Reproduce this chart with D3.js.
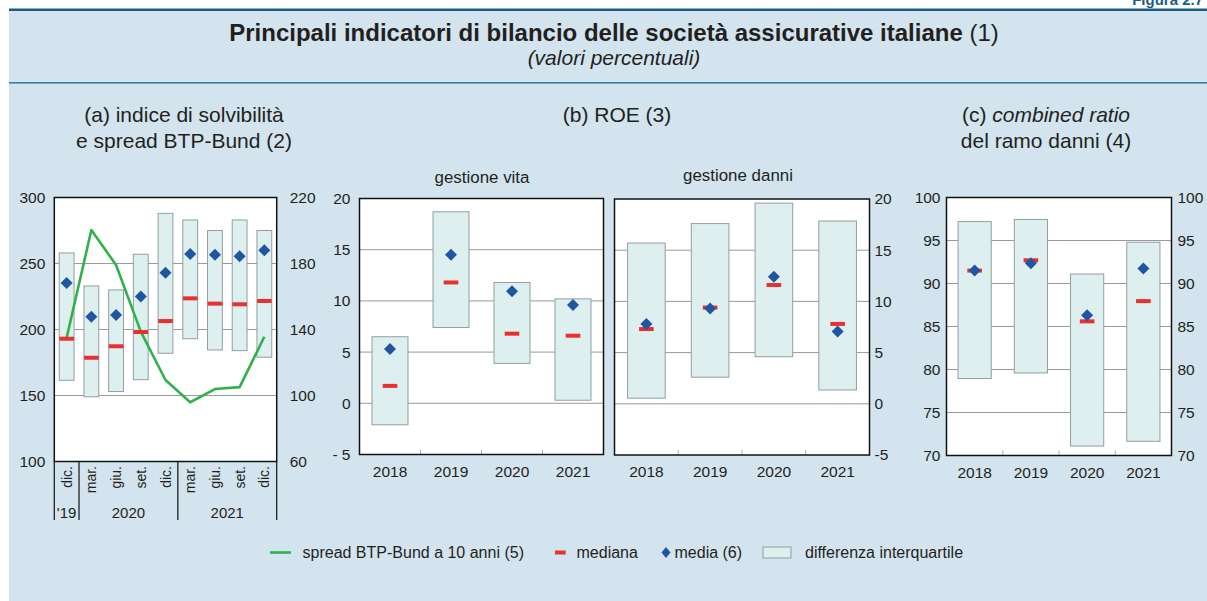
<!DOCTYPE html>
<html>
<head>
<meta charset="utf-8">
<script src="https://cdn.jsdelivr.net/npm/d3@7"></script>
<style>
    body { margin: 0; background: #fff; }
    svg { display: block; font-family: 'Liberation Sans', Arial, sans-serif; }
</style>
</head>
<body>
<svg></svg>
<script>
const width = 1207;
const height = 601;

// (a) solvency index by quarter + BTP-Bund spread
const quarters = ['dic.', 'mar.', 'giu.', 'set.', 'dic.', 'mar.', 'giu.', 'set.', 'dic.'];
const quarterYears = [
    { label: "'19", from: 0, to: 0 },
    { label: '2020', from: 1, to: 4 },
    { label: '2021', from: 5, to: 8 }
];
const solvQ1 = [161.5, 149, 153, 162, 182, 193, 184.5, 184, 179];
const solvQ3 = [258, 233, 230, 257, 288, 283, 275, 283, 275];
const solvMedian = [193, 178.6, 187.3, 198.1, 206.4, 223.6, 219.6, 219.1, 221.6];
const solvMean = [235.2, 209.7, 211, 225, 243, 257.2, 256.7, 255.5, 260];
const spread = [135, 200.3, 179.1, 138.7, 109.4, 95.9, 103.9, 105.1, 135.6];

// (b) ROE and (c) combined ratio, yearly
const years = ['2018', '2019', '2020', '2021'];
const vitaQ1 = [-2.1, 7.4, 3.9, 0.3];
const vitaQ3 = [6.5, 18.7, 11.8, 10.2];
const vitaMedian = [1.7, 11.8, 6.8, 6.6];
const vitaMean = [5.3, 14.5, 10.95, 9.6];
const danniQ1 = [0.55, 2.6, 4.6, 1.35];
const danniQ3 = [15.7, 17.6, 19.6, 17.85];
const danniMedian = [7.3, 9.4, 11.6, 7.8];
const danniMean = [7.8, 9.3, 12.4, 7.05];
const crQ1 = [78.95, 79.6, 71.1, 71.65];
const crQ3 = [97.2, 97.45, 91.1, 94.8];
const crMedian = [91.5, 92.7, 85.6, 87.95];
const crMean = [91.5, 92.35, 86.3, 91.75];

const ink = '#231f20';
const bg = '#d3e4ee';
const boxFill = '#ddefee';
const boxStroke = '#939f9f';
const red = '#e8312f';
const blue = '#1f56a3';
const green = '#2fb24c';
const gridColor = '#9a9a9a';

const svg = d3.select('svg')
    .attr('width', width)
    .attr('height', height);

// frame and header
svg.append('rect')
    .attr('x', 9).attr('y', 9)
    .attr('width', width - 9).attr('height', height - 9)
    .attr('fill', bg);
svg.append('text')
    .attr('x', 1203).attr('y', 5)
    .attr('text-anchor', 'end')
    .style('font-size', '15px').style('font-weight', 'bold')
    .attr('fill', '#1b5e82')
    .text('Figura 2.7');
svg.append('rect')
    .attr('x', 9).attr('y', 8.5).attr('width', width - 9).attr('height', 2.5)
    .attr('fill', '#1b5e82');
svg.append('rect')
    .attr('x', 9).attr('y', 82).attr('width', width - 9).attr('height', 1.6)
    .attr('fill', '#3b7fa6');

const title = svg.append('text')
    .attr('x', 614).attr('y', 41)
    .attr('text-anchor', 'middle')
    .attr('fill', ink)
    .style('font-size', '24px');
title.append('tspan').style('font-weight', 'bold')
    .text('Principali indicatori di bilancio delle società assicurative italiane');
title.append('tspan').text(' (1)');
svg.append('text')
    .attr('x', 614).attr('y', 65)
    .attr('text-anchor', 'middle')
    .attr('fill', ink)
    .style('font-size', '21px').style('font-style', 'italic')
    .text('(valori percentuali)');

function panelTitle(x, y, parts) {
    const t = svg.append('text')
        .attr('x', x).attr('y', y)
        .attr('text-anchor', 'middle')
        .attr('fill', ink)
        .style('font-size', '21px');
    parts.forEach(p => t.append('tspan')
        .style('font-style', p.italic ? 'italic' : 'normal')
        .text(p.text));
}
panelTitle(184, 122, [{ text: '(a) indice di solvibilità' }]);
panelTitle(184, 148, [{ text: 'e spread BTP-Bund (2)' }]);
panelTitle(617, 122, [{ text: '(b) ROE (3)' }]);
panelTitle(1046, 122, [{ text: '(c) ' }, { text: 'combined ratio', italic: true }]);
panelTitle(1046, 148, [{ text: 'del ramo danni (4)' }]);

svg.append('text')
    .attr('x', 482).attr('y', 183)
    .attr('text-anchor', 'middle').attr('fill', ink)
    .style('font-size', '16.9px')
    .text('gestione vita');
svg.append('text')
    .attr('x', 738).attr('y', 181)
    .attr('text-anchor', 'middle').attr('fill', ink)
    .style('font-size', '16.9px')
    .text('gestione danni');

// generic box panel
function boxPanel(o) {
    const x = d3.scaleBand()
        .domain(o.cats.map((_, i) => i))
        .range([o.left, o.right])
        .paddingInner(0).paddingOuter(0);
    const y = d3.scaleLinear()
        .domain(o.domain)
        .range([o.bottom, o.top]);
    const g = svg.append('g');
    g.append('rect')
        .attr('x', o.left).attr('y', o.top)
        .attr('width', o.right - o.left).attr('height', o.bottom - o.top)
        .attr('fill', '#fff');

    const grid = y.ticks(o.tickCount).filter(d => d > o.domain[0] && d < o.domain[1]);
    g.selectAll('.grid')
        .data(grid)
        .enter()
        .append('line')
            .attr('x1', o.left).attr('x2', o.right)
            .attr('y1', d => y(d)).attr('y2', d => y(d))
            .attr('stroke', gridColor).attr('stroke-width', 1);

    const bw = x.bandwidth() * o.boxRatio;
    const rows = o.cats.map((c, i) => ({
        i, q1: o.q1[i], q3: o.q3[i], median: o.median[i], mean: o.mean[i]
    }));
    g.selectAll('.box')
        .data(rows)
        .enter()
        .append('rect')
            .attr('x', d => x(d.i) + (x.bandwidth() - bw) / 2)
            .attr('y', d => y(d.q3))
            .attr('width', bw)
            .attr('height', d => y(d.q1) - y(d.q3))
            .attr('fill', boxFill)
            .attr('stroke', boxStroke).attr('stroke-width', 1);

    if (o.line) {
        const y2 = d3.scaleLinear().domain(o.line.domain).range([o.bottom, o.top]);
        g.append('path')
            .datum(o.line.values)
            .attr('fill', 'none')
            .attr('stroke', green).attr('stroke-width', 2.6)
            .attr('stroke-linejoin', 'round')
            .attr('d', d3.line()
                .x((_, i) => x(i) + x.bandwidth() / 2)
                .y(d => y2(d)));
        const right = d3.axisRight(y2).tickValues(o.line.ticks).tickSize(0).tickPadding(o.rightPad);
        g.append('g')
            .attr('transform', `translate(${o.right},0)`)
            .call(right)
            .call(s => s.select('.domain').remove())
            .call(s => s.selectAll('text').attr('fill', ink).style('font-size', '15.5px').style('font-family', 'inherit'));
    }

    g.selectAll('.median')
        .data(rows)
        .enter()
        .append('rect')
            .attr('x', d => x(d.i) + x.bandwidth() / 2 - 7.3)
            .attr('y', d => y(d.median) - 2)
            .attr('width', 14.6).attr('height', 4)
            .attr('fill', red);

    g.selectAll('.mean')
        .data(rows)
        .enter()
        .append('path')
            .attr('transform', d => `translate(${x(d.i) + x.bandwidth() / 2},${y(d.mean)})`)
            .attr('d', 'M0,-6L6,0L0,6L-6,0Z')
            .attr('fill', blue);

    // in-plot ticks between categories
    if (o.innerTicks) {
        g.selectAll('.itick')
            .data(o.cats.slice(1).map((_, i) => i + 1))
            .enter()
            .append('line')
                .attr('x1', d => x(d)).attr('x2', d => x(d))
                .attr('y1', o.bottom).attr('y2', o.bottom - 5)
                .attr('stroke', '#b0b0b0').attr('stroke-width', 1);
    }

    g.append('rect')
        .attr('x', o.left).attr('y', o.top)
        .attr('width', o.right - o.left).attr('height', o.bottom - o.top)
        .attr('fill', 'none')
        .attr('stroke', '#111').attr('stroke-width', 1.5);

    const fmt = o.format || (d => d);
    if (o.leftAxis) {
        g.append('g')
            .attr('transform', `translate(${o.left},0)`)
            .call(d3.axisLeft(y).ticks(o.tickCount).tickSize(0).tickPadding(o.leftPad).tickFormat(fmt))
            .call(s => s.select('.domain').remove())
            .call(s => s.selectAll('text').attr('fill', ink).style('font-size', '15.5px').style('font-family', 'inherit'));
    }
    if (o.rightAxis) {
        g.append('g')
            .attr('transform', `translate(${o.right},0)`)
            .call(d3.axisRight(y).ticks(o.tickCount).tickSize(0).tickPadding(o.rightPad).tickFormat(o.rightFormat || fmt))
            .call(s => s.select('.domain').remove())
            .call(s => s.selectAll('text').attr('fill', ink).style('font-size', '15.5px').style('font-family', 'inherit'));
    }
    if (o.yearAxis) {
        g.append('g')
            .attr('transform', `translate(0,${o.bottom})`)
            .call(d3.axisBottom(x).tickSize(0).tickPadding(11).tickFormat(i => o.cats[i]))
            .call(s => s.select('.domain').remove())
            .call(s => s.selectAll('text').attr('fill', ink).style('font-size', '15.5px').style('font-family', 'inherit'));
    }
    return { x, y, g };
}

// (a)
const pa = boxPanel({
    left: 54.3, right: 276.7, top: 197.5, bottom: 461.5,
    cats: quarters, domain: [100, 300], tickCount: 4, boxRatio: 0.6,
    q1: solvQ1, q3: solvQ3, median: solvMedian, mean: solvMean,
    leftAxis: true, leftPad: 9,
    line: { values: spread, domain: [60, 220], ticks: d3.range(60, 221, 40) },
    rightPad: 13
});

// quarter / year labels under (a)
const ax = pa.x;
const seps = [0, 1, 5];
pa.g.selectAll('.sep')
    .data(seps)
    .enter()
    .append('line')
        .attr('x1', d => ax(d)).attr('x2', d => ax(d))
        .attr('y1', 461.5).attr('y2', 520)
        .attr('stroke', '#111').attr('stroke-width', 1.2);
pa.g.append('line')
    .attr('x1', 276.7).attr('x2', 276.7)
    .attr('y1', 461.5).attr('y2', 520)
    .attr('stroke', '#111').attr('stroke-width', 1.2);
pa.g.selectAll('.qlab')
    .data(quarters)
    .enter()
    .append('text')
        .attr('transform', (_, i) => `translate(${ax(i) + ax.bandwidth() / 2 + 5},466) rotate(-90)`)
        .attr('text-anchor', 'end')
        .attr('fill', ink)
        .style('font-size', '14px')
        .text(d => d);
pa.g.selectAll('.ylab')
    .data(quarterYears)
    .enter()
    .append('text')
        .attr('x', d => (ax(d.from) + ax(d.to) + ax.bandwidth()) / 2)
        .attr('y', 518)
        .attr('text-anchor', 'middle')
        .attr('fill', ink)
        .style('font-size', '15px')
        .text(d => d.label);

// (b) ROE
boxPanel({
    left: 359.5, right: 603.5, top: 198.5, bottom: 454.5,
    cats: years, domain: [-5, 20], tickCount: 5, boxRatio: 0.59,
    q1: vitaQ1, q3: vitaQ3, median: vitaMedian, mean: vitaMean,
    leftAxis: true, leftPad: 9, innerTicks: true, yearAxis: true,
    format: d => d < 0 ? '- ' + Math.abs(d) : d
});
boxPanel({
    left: 614.5, right: 869.5, top: 199, bottom: 455,
    cats: years, domain: [-5, 20], tickCount: 5, boxRatio: 0.59,
    q1: danniQ1, q3: danniQ3, median: danniMedian, mean: danniMean,
    rightAxis: true, rightPad: 5, innerTicks: true, yearAxis: true,
    format: d => d < 0 ? '-' + Math.abs(d) : d
});

// (c) combined ratio
boxPanel({
    left: 946.5, right: 1171.5, top: 197.5, bottom: 455.5,
    cats: years, domain: [70, 100], tickCount: 6, boxRatio: 0.59,
    q1: crQ1, q3: crQ3, median: crMedian, mean: crMean,
    leftAxis: true, leftPad: 6, rightAxis: true, rightPad: 6,
    innerTicks: true, yearAxis: true
});

// legend
const legend = svg.append('g').style('font-size', '16px').attr('fill', ink);
const ly = 552.5;
legend.append('line')
    .attr('x1', 270).attr('x2', 291).attr('y1', ly).attr('y2', ly)
    .attr('stroke', green).attr('stroke-width', 2.6);
legend.append('text').attr('x', 302.5).attr('y', ly).attr('dy', '0.35em')
    .text('spread BTP-Bund a 10 anni (5)');
legend.append('rect')
    .attr('x', 555).attr('y', ly - 2).attr('width', 10.7).attr('height', 4)
    .attr('fill', red);
legend.append('text').attr('x', 576.5).attr('y', ly).attr('dy', '0.35em')
    .text('mediana');
legend.append('path')
    .attr('transform', `translate(666,${ly})`)
    .attr('d', 'M0,-5.5L4.5,0L0,5.5L-4.5,0Z')
    .attr('fill', blue);
legend.append('text').attr('x', 674.5).attr('y', ly).attr('dy', '0.35em')
    .text('media (6)');
legend.append('rect')
    .attr('x', 763).attr('y', ly - 5.5).attr('width', 28).attr('height', 11)
    .attr('fill', boxFill).attr('stroke', boxStroke).attr('stroke-width', 1);
legend.append('text').attr('x', 805).attr('y', ly).attr('dy', '0.35em')
    .text('differenza interquartile');
</script>
</body>
</html>
